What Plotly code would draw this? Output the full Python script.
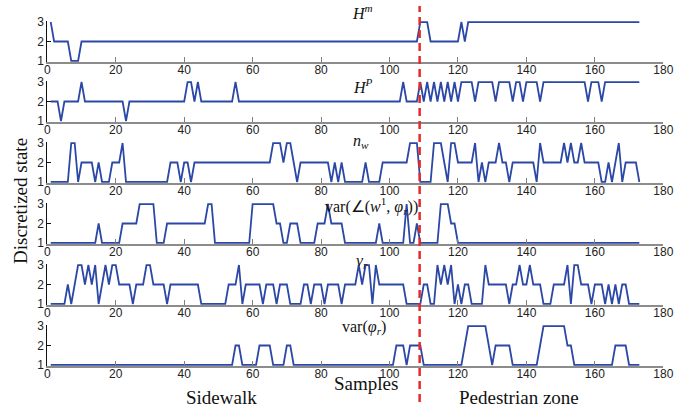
import plotly.graph_objects as go

samples = list(range(1, 174))

H_m = [3,2,2,2,2,2,1,1,1,2,
       2,2,2,2,2,2,2,2,2,2,
       2,2,2,2,2,2,2,2,2,2,
       2,2,2,2,2,2,2,2,2,2,
       2,2,2,2,2,2,2,2,2,2,
       2,2,2,2,2,2,2,2,2,2,
       2,2,2,2,2,2,2,2,2,2,
       2,2,2,2,2,2,2,2,2,2,
       2,2,2,2,2,2,2,2,2,2,
       2,2,2,2,2,2,2,2,2,2,
       2,2,2,2,2,2,2,2,3,3,
       3,2,2,2,2,2,2,2,2,2,
       3,2,3,3,3,3,3,3,3,3,
       3,3,3,3,3,3,3,3,3,3,
       3,3,3,3,3,3,3,3,3,3,
       3,3,3,3,3,3,3,3,3,3,
       3,3,3,3,3,3,3,3,3,3,
       3,3,3]

H_P = [2,2,2,1,2,2,2,2,2,3,
       2,2,2,2,2,2,2,2,2,2,
       2,2,1,2,2,2,2,2,2,2,
       2,2,2,2,2,2,2,2,2,2,
       3,3,2,3,2,2,2,2,2,2,
       2,2,2,2,3,2,2,2,2,2,
       2,2,2,2,2,2,2,2,2,2,
       2,2,2,2,2,2,2,2,2,2,
       2,2,2,2,2,2,2,2,2,2,
       2,2,2,2,2,2,2,2,2,2,
       2,2,2,3,2,2,2,2,3,2,
       3,2,3,2,3,2,3,2,3,2,
       3,3,3,3,2,3,3,3,3,3,
       2,3,3,3,3,2,3,3,2,3,
       3,3,3,2,3,3,3,3,3,3,
       3,3,3,3,3,3,3,2,3,3,
       3,2,3,3,3,3,3,3,3,3,
       3,3,3]

n_w = [1,1,1,1,1,1,3,3,1,2,
       2,2,2,1,2,1,1,1,2,2,
       2,3,1,1,1,1,1,1,1,1,
       1,1,1,1,1,2,2,2,1,2,
       2,1,2,2,2,2,2,2,2,2,
       2,2,2,2,2,2,2,2,2,2,
       2,2,2,2,2,3,3,3,2,3,
       3,2,1,2,2,2,2,2,2,2,
       2,2,1,2,1,2,1,1,1,1,
       1,1,2,1,1,1,1,2,2,2,
       2,2,2,2,2,3,3,3,1,1,
       1,1,3,3,3,2,1,3,3,2,
       2,2,2,2,3,1,2,1,2,2,
       2,3,2,2,1,2,2,2,2,2,
       2,2,1,3,2,2,2,2,2,2,
       3,2,3,2,2,3,2,2,2,2,
       2,1,1,2,1,2,3,1,2,2,
       2,2,1]

var_angle = [1,1,1,1,1,1,1,1,1,1,
             1,1,1,1,2,1,1,1,1,1,
             1,2,2,2,2,2,3,3,3,3,
             3,1,1,1,2,2,2,2,2,2,
             2,2,2,2,2,2,3,3,1,1,
             1,1,1,1,1,1,1,1,1,3,
             3,3,3,3,3,3,2,2,1,1,
             2,2,2,1,1,1,1,1,2,2,
             2,3,2,2,2,2,1,1,1,1,
             1,1,1,1,1,1,2,1,1,1,
             1,1,1,1,3,1,1,2,1,1,
             1,1,1,1,3,3,3,2,2,1,
             1,1,1,1,1,1,1,1,1,1,
             1,1,1,1,1,1,1,1,1,1,
             1,1,1,1,1,1,1,1,1,1,
             1,1,1,1,1,1,1,1,1,1,
             1,1,1,1,1,1,1,1,1,1,
             1,1,1]

v_r = [1,1,1,1,1,2,1,2,3,3,
       2,3,2,3,1,2,3,2,3,3,
       2,2,2,2,1,2,2,2,3,3,
       2,2,2,2,1,2,2,2,2,2,
       2,2,2,2,1,1,1,1,1,1,
       1,1,2,2,2,3,1,2,2,2,
       2,2,1,2,2,2,1,2,2,2,
       1,1,1,1,2,2,1,2,2,2,
       1,2,2,2,2,1,2,2,2,2,
       3,2,3,3,1,3,2,2,2,2,
       2,2,2,2,1,1,1,1,1,2,
       2,1,1,3,2,3,2,3,1,2,
       1,2,2,1,1,1,1,3,2,2,
       2,2,2,2,1,2,2,3,2,2,
       3,2,2,2,1,1,1,2,2,2,
       2,3,1,3,3,2,2,2,1,2,
       2,2,1,2,1,2,1,2,2,1,
       1,1,1]

var_phi = [1,1,1,1,1,1,1,1,1,1,
           1,1,1,1,1,1,1,1,1,1,
           1,1,1,1,1,1,1,1,1,1,
           1,1,1,1,1,1,1,1,1,1,
           1,1,1,1,1,1,1,1,1,1,
           1,1,1,1,2,2,1,1,1,1,
           1,2,2,2,2,1,1,1,1,2,
           2,1,1,1,1,1,1,1,1,1,
           1,1,1,1,1,1,1,1,1,1,
           1,1,1,1,1,1,1,1,1,1,
           1,2,2,2,1,2,2,2,2,1,
           1,1,1,1,1,1,1,1,1,1,
           1,2,3,3,3,3,3,3,2,1,
           2,2,2,2,2,1,1,1,1,1,
           1,1,1,2,3,3,3,3,3,3,
           3,2,2,1,1,1,1,1,1,1,
           1,1,1,1,1,2,2,2,2,1,
           1,1,1]

series = [H_m, H_P, n_w, var_angle, v_r, var_phi]
titles = ["<i>H</i><sup><i>m</i></sup>", "<i>H</i><sup><i>P</i></sup>", "<i>n</i><sub><i>w</i></sub>",
          "var(∠(<i>w</i><sup>1</sup>, <i>φ</i><sub><i>r</i></sub>))", "<i>v</i><sub><i>r</i></sub>",
          "var(<i>φ</i><sub><i>r</i></sub>)"]
x_ticks = list(range(0, 181, 20))
y_ticks = [1, 2, 3]
boundary = 108.8

W, H = 699, 408
# pixel rows of y=3 and y=1 for each panel
panel_px = [(22, 61), (82, 121), (143, 182), (204, 243), (265, 304), (326, 365)]
title_px = [(363, 12), (363, 86), (361, 141), (371, 206), (362, 261), (364, 327)]
pad = 0.04

fig = go.Figure()
x0p, x1p = 47.3, 663.3
layout = dict(width=W, height=H, margin=dict(l=0, r=0, t=0, b=0, autoexpand=False),
              plot_bgcolor="white", paper_bgcolor="white", showlegend=False)
serif = "Liberation Serif, Times New Roman, serif"
sans = "Liberation Sans, Arial, sans-serif"
annotations = []
for i, (ys, (p3, p1)) in enumerate(zip(series, panel_px)):
    k = i + 1
    ppu = (p1 - p3) / 2.0
    top = p3 - pad * ppu
    bot = p1 + pad * ppu
    fig.add_trace(go.Scatter(x=samples, y=ys, mode="lines",
                             line=dict(color="#2b48a6", width=1.8),
                             xaxis=f"x{k}", yaxis=f"y{k}", hoverinfo="skip"))
    layout[f"xaxis{k}"] = dict(domain=[x0p / W, x1p / W], range=[0, 180], anchor=f"y{k}",
                               tickvals=x_ticks, ticks="inside", ticklen=5, tickcolor="#7f7f7f",
                               showline=True, linecolor="#8c8c8c", linewidth=1.5,
                               showgrid=False, zeroline=False, automargin=False,
                               ticklabelstandoff=-4,
                               tickfont=dict(family=sans, size=12, color="#222"))
    layout[f"yaxis{k}"] = dict(domain=[1 - bot / H, 1 - top / H], range=[1 - pad, 3 + pad],
                               anchor=f"x{k}", tickvals=y_ticks, ticks="inside", ticklen=4,
                               tickcolor="#111", showline=True, linecolor="#111", linewidth=1,
                               showgrid=False, zeroline=False, automargin=False,
                               tickfont=dict(family=sans, size=12, color="#222"))
    tx, ty = title_px[i]
    annotations.append(dict(text=titles[i], x=tx / W, y=1 - ty / H, xref="paper", yref="paper",
                            xanchor="center", yanchor="middle", showarrow=False,
                            font=dict(family=serif, size=16, color="#111")))

label_font = dict(family=serif, size=19, color="#111")
annotations += [
    dict(text="Discretized state", x=20 / W, y=1 - 201 / H, xref="paper", yref="paper",
         xanchor="center", yanchor="middle", textangle=-90, showarrow=False, font=label_font),
    dict(text="Samples", x=366 / W, y=1 - 383 / H, xref="paper", yref="paper",
         xanchor="center", yanchor="middle", showarrow=False, font=label_font),
    dict(text="Sidewalk", x=222 / W, y=1 - 397 / H, xref="paper", yref="paper",
         xanchor="center", yanchor="middle", showarrow=False, font=label_font),
    dict(text="Pedestrian zone", x=519 / W, y=1 - 397 / H, xref="paper", yref="paper",
         xanchor="center", yanchor="middle", showarrow=False, font=label_font),
]
layout["annotations"] = annotations
layout["shapes"] = [dict(type="line", xref="x", yref="paper", x0=boundary, x1=boundary,
                         y0=0.015, y1=0.985,
                         line=dict(color="#e32b2b", width=2.5, dash="8px,5px"))]
fig.update_layout(**layout)
fig.write_html("out.html", config={"displayModeBar": False},
               post_script="document.body.style.margin='0px';document.body.style.overflow='hidden';")
